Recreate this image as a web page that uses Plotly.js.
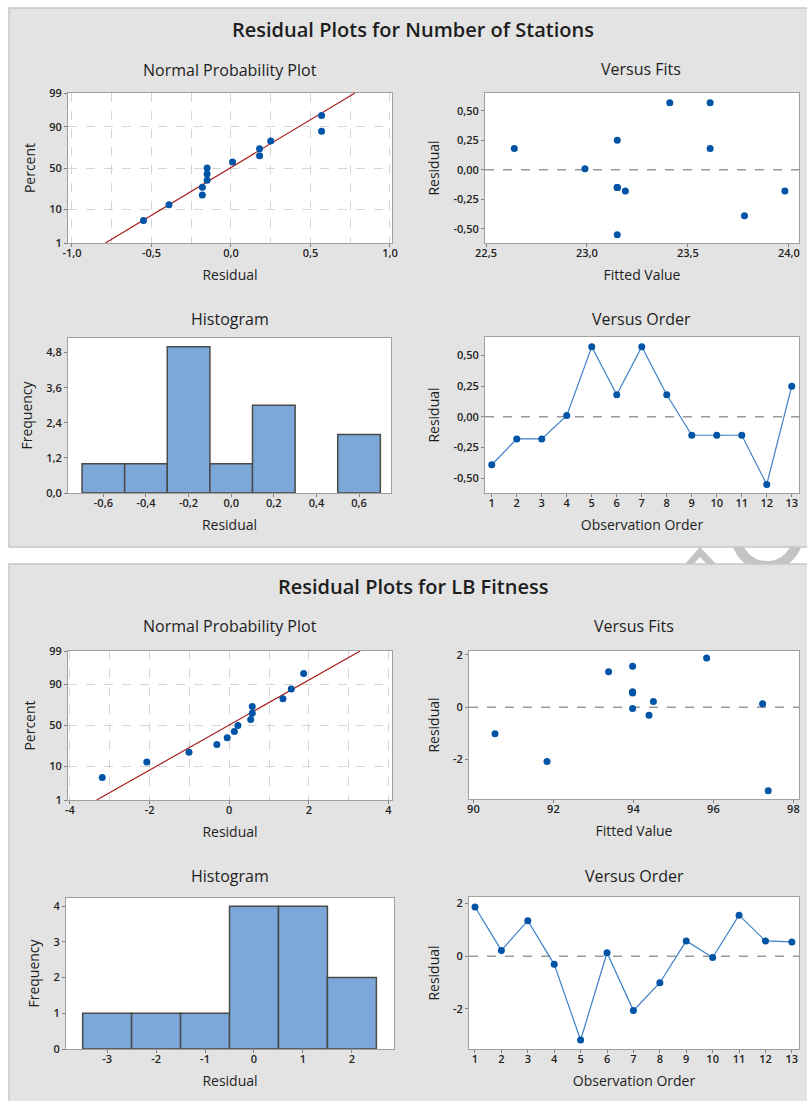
<!DOCTYPE html>
<html><head><meta charset="utf-8">
<script src="https://cdn.plot.ly/plotly-3.0.1.min.js"></script>
<style>html,body{margin:0;padding:0;background:#fff;} #chart{width:807px;height:1101px;}</style>
</head><body><div id="chart"></div>
<script>
// ---------------- DATA ----------------
const obsOrder = [1,2,3,4,5,6,7,8,9,10,11,12,13];
const nppPercent = [5.2,12.7,20.1,27.6,35.1,42.5,50.0,57.5,64.9,72.4,79.9,87.3,94.8];
const nppPercentTicks = [1,10,50,90,99];

// Number of Stations
const stationsResidual = [-0.39,-0.18,-0.18,0.01,0.57,0.18,0.57,0.18,-0.15,-0.15,-0.15,-0.55,0.25];
const stationsFitted   = [23.78,23.19,23.98,22.99,23.41,22.64,23.61,23.61,23.15,23.15,23.15,23.15,23.15];
const stationsNppResidual = [-0.55,-0.39,-0.18,-0.18,-0.15,-0.15,-0.15,0.01,0.18,0.18,0.25,0.57,0.57];
const stationsLineResidual = [-0.79,0.78];
const stationsLinePercent  = [1,99];

// LB Fitness
const fitnessResidual = [1.87,0.22,1.35,-0.31,-3.19,0.13,-2.07,-1.01,0.58,-0.05,1.56,0.58,0.54];
const fitnessFitted   = [95.83,94.50,93.38,94.39,97.37,97.23,91.84,90.54,93.98,93.98,93.98,93.98,93.98];
const fitnessNppResidual = [-3.19,-2.07,-1.01,-0.31,-0.05,0.13,0.22,0.54,0.58,0.58,1.35,1.56,1.87];
const fitnessLineResidual = [-3.33,3.29];
const fitnessLinePercent  = [1,99];

// Tick labels
const stNppXVals = [-1,-0.5,0,0.5,1];         const stNppXText = ['-1,0','-0,5','0,0','0,5','1,0'];
const stFitsXVals = [22.5,23,23.5,24];        const stFitsXText = ['22,5','23,0','23,5','24,0'];
const stResidVals = [-0.5,-0.25,0,0.25,0.5];  const stResidText = ['-0,50','-0,25','0,00','0,25','0,50'];
const stHistXVals = [-0.6,-0.4,-0.2,0,0.2,0.4,0.6]; const stHistXText = ['-0,6','-0,4','-0,2','0,0','0,2','0,4','0,6'];
const stHistYVals = [0,1.2,2.4,3.6,4.8];      const stHistYText = ['0,0','1,2','2,4','3,6','4,8'];
const fiNppXVals = [-4,-2,0,2,4];             const fiNppXText = ['-4','-2','0','2','4'];
const fiFitsXVals = [90,92,94,96,98];         const fiFitsXText = ['90','92','94','96','98'];
const fiResidVals = [-2,0,2];                 const fiResidText = ['-2','0','2'];
const fiHistXVals = [-3,-2,-1,0,1,2];         const fiHistXText = ['-3','-2','-1','0','1','2'];
const fiHistYVals = [0,1,2,3,4];              const fiHistYText = ['0','1','2','3','4'];

// ---------------- HELPERS ----------------
function probit(pct){ // inverse standard normal CDF (Acklam) -> normal probability axis scale
  const p = pct/100;
  const a=[-3.969683028665376e+01,2.209460984245205e+02,-2.759285104469687e+02,1.383577518672690e+02,-3.066479806614716e+01,2.506628277459239e+00];
  const b=[-5.447609879822406e+01,1.615858368580409e+02,-1.556989798598866e+02,6.680131188771972e+01,-1.328068155288572e+01];
  const c=[-7.784894002430293e-03,-3.223964580411365e-01,-2.400758277161838e+00,-2.549732539343734e+00,4.374664141464968e+00,2.938163982698783e+00];
  const d=[7.784695709041462e-03,3.224671290700398e-01,2.445134137142996e+00,3.754408661907416e+00];
  const pl=0.02425, ph=1-pl; let q,r;
  if(p<pl){q=Math.sqrt(-2*Math.log(p));return (((((c[0]*q+c[1])*q+c[2])*q+c[3])*q+c[4])*q+c[5])/((((d[0]*q+d[1])*q+d[2])*q+d[3])*q+1);}
  if(p<=ph){q=p-0.5;r=q*q;return (((((a[0]*r+a[1])*r+a[2])*r+a[3])*r+a[4])*r+a[5])*q/(((((b[0]*r+b[1])*r+b[2])*r+b[3])*r+b[4])*r+1);}
  q=Math.sqrt(-2*Math.log(1-p));return -(((((c[0]*q+c[1])*q+c[2])*q+c[3])*q+c[4])*q+c[5])/((((d[0]*q+d[1])*q+d[2])*q+d[3])*q+1);
}
function gridVals(a,b,step){const v=[];for(let x=a;x<=b+1e-9;x+=step)v.push(+x.toFixed(4));return v;}

const W=807, H=1101;
const xd=(l,r)=>[l/W, r/W];
const yd=(t,b)=>[1-b/H, 1-t/H];
const FONT='"Open Sans", "Noto Sans", sans-serif';
const TXT='#1e1e1e';
const BLUE='#0054a6', LINEBLUE='#3b7fc8', FITRED='#a81e1e';
const BAR='#7ba7d9', BAREDGE='#4a4a4a';
const GRID='#d5d5d5';

function axis(letter, dom, range, vals, text, title, extra){
  const isX = letter==='x';
  return Object.assign({
    domain: dom, range: range, tickmode:'array', tickvals: vals, ticktext: text,
    showline:true, mirror:true, linecolor:'#a0a0a0', linewidth:1,
    ticks:'outside', ticklen:3, tickwidth:1, tickcolor:'#808080',
    ticklabelstandoff: isX ? -3 : 0,
    tickfont:{family:FONT, size:11, color:TXT, weight:600},
    showgrid:false, zeroline:false, fixedrange:true, automargin:false,
    title:{text:title, font:{family:FONT, size:14, color:TXT}, standoff: isX ? 10 : 10}
  }, extra||{});
}
const nppYVals = nppPercentTicks.map(probit);
const nppYText = nppPercentTicks.map(String);
const nppGrid = {showgrid:true, gridcolor:GRID, griddash:'dash', gridwidth:1};

// ---------------- TRACES ----------------
const mk = {color:BLUE, size:7};
const traces = [
  // Stations
  {type:'scatter', mode:'lines', x:stationsLineResidual, y:stationsLinePercent.map(probit), xaxis:'x', yaxis:'y', line:{color:FITRED, width:1.2}, hoverinfo:'skip'},
  {type:'scatter', mode:'markers', x:stationsNppResidual, y:nppPercent.map(probit), xaxis:'x', yaxis:'y', marker:mk},
  {type:'scatter', mode:'markers', x:stationsFitted, y:stationsResidual, xaxis:'x2', yaxis:'y2', marker:mk},
  {type:'histogram', x:stationsResidual, xbins:{start:-0.7, end:0.7, size:0.2}, xaxis:'x3', yaxis:'y3', marker:{color:BAR, line:{color:BAREDGE, width:1.5}}},
  {type:'scatter', mode:'lines+markers', x:obsOrder, y:stationsResidual, xaxis:'x4', yaxis:'y4', marker:mk, line:{color:LINEBLUE, width:1.2}},
  // Fitness
  {type:'scatter', mode:'lines', x:fitnessLineResidual, y:fitnessLinePercent.map(probit), xaxis:'x5', yaxis:'y5', line:{color:FITRED, width:1.2}, hoverinfo:'skip'},
  {type:'scatter', mode:'markers', x:fitnessNppResidual, y:nppPercent.map(probit), xaxis:'x5', yaxis:'y5', marker:mk},
  {type:'scatter', mode:'markers', x:fitnessFitted, y:fitnessResidual, xaxis:'x6', yaxis:'y6', marker:mk},
  {type:'histogram', x:fitnessResidual, xbins:{start:-3.5, end:2.5, size:1}, xaxis:'x7', yaxis:'y7', marker:{color:BAR, line:{color:BAREDGE, width:1.5}}},
  {type:'scatter', mode:'lines+markers', x:obsOrder, y:fitnessResidual, xaxis:'x8', yaxis:'y8', marker:mk, line:{color:LINEBLUE, width:1.2}}
];

// ---------------- LAYOUT ----------------
const layout = {
  width:W, height:H, margin:{l:0,r:0,t:0,b:0},
  paper_bgcolor:'#ffffff', plot_bgcolor:'#ffffff', showlegend:false, bargap:0,
  font:{family:FONT, color:TXT},
  // top
  xaxis: axis('x', xd(68,392), [-1.025,1.013], stNppXVals, stNppXText, 'Residual',
      Object.assign({}, nppGrid, {minor:{tickmode:'array', tickvals:gridVals(-1,1,0.25), showgrid:true, gridcolor:GRID, griddash:'dash', ticks:''}})),
  yaxis: axis('y', yd(93,243), [probit(1),probit(99)], nppYVals, nppYText, 'Percent', nppGrid),
  xaxis2: axis('x', xd(485,799), [22.495,24.05], stFitsXVals, stFitsXText, 'Fitted Value'),
  yaxis2: axis('y', yd(93,243), [-0.621,0.652], stResidVals, stResidText, 'Residual'),
  xaxis3: axis('x', xd(68,391), [-0.766,0.75], stHistXVals, stHistXText, 'Residual'),
  yaxis3: axis('y', yd(338,493), [0,5.3], stHistYVals, stHistYText, 'Frequency'),
  xaxis4: axis('x', xd(485,799), [0.73,13.29], obsOrder, obsOrder.map(String), 'Observation Order'),
  yaxis4: axis('y', yd(337,493), [-0.62,0.65], stResidVals, stResidText, 'Residual'),
  // bottom
  xaxis5: axis('x', xd(68,392), [-4.05,4.09], fiNppXVals, fiNppXText, 'Residual',
      Object.assign({}, nppGrid, {minor:{tickmode:'array', tickvals:gridVals(-4,4,1), showgrid:true, gridcolor:GRID, griddash:'dash', ticks:''}})),
  yaxis5: axis('y', yd(651,800), [probit(1),probit(99)], nppYVals, nppYText, 'Percent', nppGrid),
  xaxis6: axis('x', xd(469,799), [89.89,98.14], fiFitsXVals, fiFitsXText, 'Fitted Value'),
  yaxis6: axis('y', yd(651,799), [-3.5,2.14], fiResidVals, fiResidText, 'Residual'),
  xaxis7: axis('x', xd(66,394), [-3.84,2.86], fiHistXVals, fiHistXText, 'Residual'),
  yaxis7: axis('y', yd(898,1049), [0,4.23], fiHistYVals, fiHistYText, 'Frequency'),
  xaxis8: axis('x', xd(469,799), [0.773,13.27], obsOrder, obsOrder.map(String), 'Observation Order'),
  yaxis8: axis('y', yd(897,1049), [-3.53,2.25], fiResidVals, fiResidText, 'Residual'),
  shapes: [],
  annotations: []
};
for(let i=1;i<=8;i++){ layout['xaxis'+(i===1?'':i)].anchor='y'+(i===1?'':i); layout['yaxis'+(i===1?'':i)].anchor='x'+(i===1?'':i); }

// faint background watermark partly visible in the gap between the panels
const px=(x)=>(x/W).toFixed(5), py=(y)=>(1-y/H).toFixed(5);
layout.shapes.push({type:'circle', xref:'paper', yref:'paper', x0:px(736), x1:px(798), y0:py(566), y1:py(504), fillcolor:'rgba(0,0,0,0)', line:{color:'#c4c4c4', width:10}, layer:'below'});
layout.shapes.push({type:'path', xref:'paper', yref:'paper',
  path:'M'+px(683)+','+py(566)+' L'+px(700)+','+py(547)+' L'+px(718)+','+py(566)+' L'+px(709)+','+py(566)+' L'+px(700)+','+py(557)+' L'+px(692)+','+py(566)+' Z',
  fillcolor:'#c4c4c4', line:{width:0}, layer:'below'});
// gray panels
layout.shapes.push({type:'rect', xref:'paper', yref:'paper', x0:9/W, x1:1.01, y0:1-547/H, y1:1-8/H, fillcolor:'#e3e3e3', line:{color:'#c6c6c6', width:1.5}, layer:'below'});
layout.shapes.push({type:'rect', xref:'paper', yref:'paper', x0:9/W, x1:1.01, y0:-0.01, y1:1-564/H, fillcolor:'#e3e3e3', line:{color:'#c6c6c6', width:1.5}, layer:'below'});
// white plot areas + zero reference lines
for(let i=1;i<=8;i++){
  const s = i===1?'':String(i);
  layout.shapes.push({type:'rect', xref:'x'+s+' domain', yref:'y'+s+' domain', x0:0, x1:1, y0:0, y1:1, fillcolor:'#ffffff', line:{width:0}, layer:'below'});
}
[2,4,6,8].forEach(i=>{
  layout.shapes.push({type:'line', xref:'x'+i+' domain', yref:'y'+i, x0:0, x1:1, y0:0, y1:0, line:{color:'#9a9a9a', width:1.5, dash:'dash'}, layer:'below'});
});

// titles
function ann(text, xpx, ypx, size, weight){
  layout.annotations.push({text:text, xref:'paper', yref:'paper', x:xpx/W, y:1-ypx/H, xanchor:'center', yanchor:'middle', showarrow:false, font:{family:FONT, size:size, color:TXT, weight:weight||500}});
}
ann('Residual Plots for Number of Stations', 413, 29, 20, 600);
ann('Normal Probability Plot', 230, 70, 16);
ann('Versus Fits', 641, 69, 16);
ann('Histogram', 230, 319, 16);
ann('Versus Order', 641, 319, 16);
ann('Residual Plots for LB Fitness', 413, 586, 20, 600);
ann('Normal Probability Plot', 230, 626, 16);
ann('Versus Fits', 634, 626, 16);
ann('Histogram', 230, 876, 16);
ann('Versus Order', 634, 876, 16);

Plotly.newPlot('chart', traces, layout, {displayModeBar:false, staticPlot:true});
</script>
</body></html>
